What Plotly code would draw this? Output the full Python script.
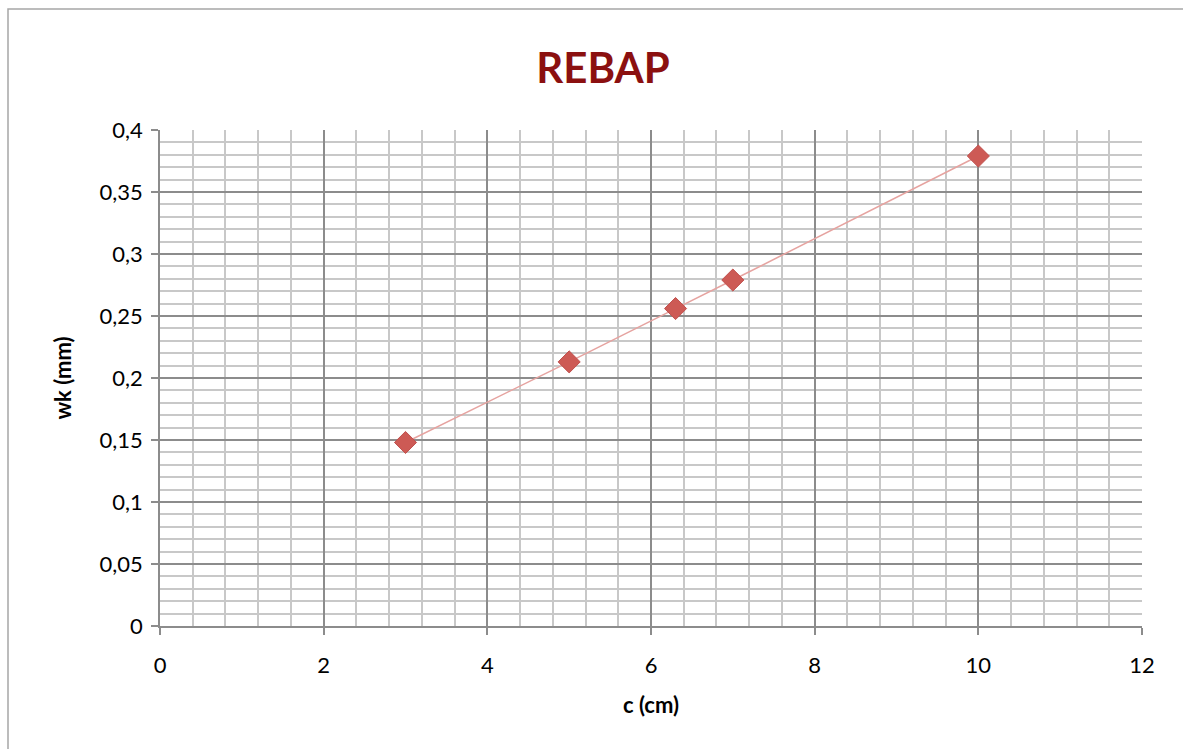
import plotly.graph_objects as go

c_cm = [3, 5, 6.3, 7, 10]
wk_mm = [0.148, 0.213, 0.256, 0.279, 0.379]
title_text = "REBAP"
x_title = "c (cm)"
y_title = "wk (mm)"

FONT = "Lato, Open Sans, sans-serif"

fig = go.Figure()
fig.add_trace(go.Scatter(
    x=c_cm, y=wk_mm, mode="lines",
    line=dict(color="#E6A3A0", width=1.5),
    hoverinfo="skip", showlegend=False,
))
fig.add_trace(go.Scatter(
    x=c_cm, y=wk_mm, mode="markers",
    marker=dict(symbol="diamond", size=17, color="#CD5A55",
                line=dict(color="#C0504D", width=1)),
    showlegend=False,
))

axis_common = dict(
    showline=True, linecolor="#8C8C8C", linewidth=1.5,
    ticks="outside", ticklen=7, tickcolor="#8C8C8C", tickwidth=1.5,
    gridcolor="#8C8C8C", gridwidth=1.5,
    zeroline=False,
    tickfont=dict(family=FONT, size=22, color="#000000"),
    mirror=False,
)

fig.update_xaxes(
    range=[0, 12], dtick=2, tick0=0,
    minor=dict(dtick=0.4, tick0=0, showgrid=True, gridcolor="#C8C8C8", gridwidth=1.5),
    ticklabelstandoff=12,
    title=dict(text=x_title, font=dict(family=FONT, size=22, color="#000000", weight="bold"), standoff=20),
    **axis_common,
)
fig.update_yaxes(
    range=[0, 0.4], dtick=0.05, tick0=0,
    minor=dict(dtick=0.01, tick0=0, showgrid=True, gridcolor="#C8C8C8", gridwidth=1.5),
    ticklabelstandoff=4,
    title=dict(text=y_title, font=dict(family=FONT, size=22, color="#000000", weight="bold"), standoff=22),
    **axis_common,
)

fig.add_shape(type="rect", xref="paper", yref="paper",
              x0=(8 - 160) / 982, x1=1.2, y0=-0.5, y1=(626 - 9) / 496,
              line=dict(color="#A6A6A6", width=1.5), fillcolor="rgba(0,0,0,0)", layer="below")

fig.update_layout(
    width=1183, height=749,
    margin=dict(l=160, r=41, t=130, b=123),
    paper_bgcolor="white", plot_bgcolor="white",
    separators=", ",
    title=dict(text=title_text, x=603 / 1183, xanchor="center", xref="container",
               y=1 - 68 / 749, yanchor="middle",
               font=dict(family=FONT, size=42, color="#8B1010", weight="bold")),
)

fig.write_html("out.html")
